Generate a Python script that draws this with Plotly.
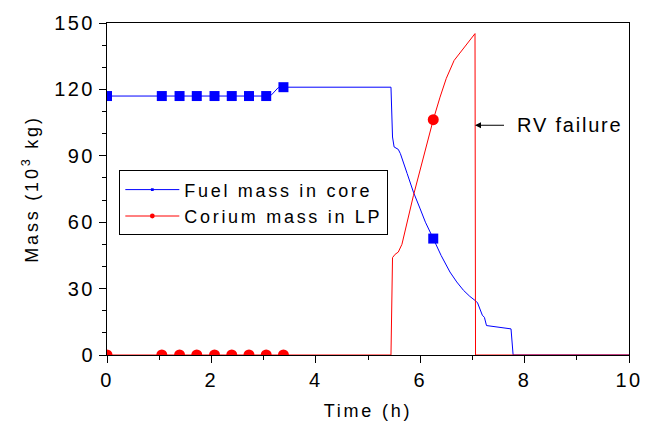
import plotly.graph_objects as go

# ---- data ----
fuel_t = [0, 1.05, 1.39, 1.72, 2.06, 2.39, 2.72, 3.05, 3.15, 3.22, 3.28, 3.38,
          5.44, 5.47, 5.50, 5.58, 5.62, 5.75, 5.87, 6.0, 6.1, 6.25, 6.4, 6.57,
          6.7, 6.83, 6.95, 7.07, 7.10, 7.19, 7.23, 7.27, 7.5, 7.74, 7.78, 10]
fuel_m = [117, 117, 117, 117, 117, 117, 117, 117, 117.5, 119.5, 120.8, 121,
          121, 98.5, 94, 92.9, 91, 82, 73.6, 66, 60, 52.6, 45, 37.5,
          33, 29.2, 26.5, 24.3, 23.5, 18, 17, 13.3, 12.7, 11.8, 0, 0]
fuel_marker_t = [0, 1.05, 1.39, 1.72, 2.06, 2.39, 2.72, 3.05, 3.38, 6.25]

corium_t = [0, 1.05, 1.39, 1.72, 2.06, 2.39, 2.72, 3.05, 3.38, 5.44, 5.47,
            5.52, 5.58, 5.65, 5.87, 6.25, 6.38, 6.5, 6.65, 6.8, 7.05, 7.06, 10]
corium_m = [0, 0, 0, 0, 0, 0, 0, 0, 0, 0, 44,
            45.5, 46.5, 50, 72, 106.3, 116.5, 125, 133.1, 137.5, 145.2, 0, 0]
corium_marker_t = [0, 1.05, 1.39, 1.72, 2.06, 2.39, 2.72, 3.05, 3.38, 6.25]

series_names = ["Fuel mass in core", "Corium mass in LP"]
x_title = "Time (h)"
y_title = "Mass (10<sup>3</sup> kg)"
annotation_text = "RV failure"
rv_failure_t = 7.05
rv_failure_level = 103.8

FONT = "Liberation Sans, Arial, sans-serif"


def marker_sizes(ts, marker_ts, size):
    return [size if any(abs(t - m) < 1e-9 for m in marker_ts) else 0 for t in ts]


def spaced(text, px):
    return '<span style="letter-spacing:%spx">%s</span>' % (px, text)


fig = go.Figure()
fig.add_trace(go.Scatter(
    x=fuel_t, y=fuel_m, mode="lines+markers", name=spaced(series_names[0], 2.7),
    line=dict(color="#0000ff", width=1),
    marker=dict(symbol="square", color="#0000ff", opacity=1,
                line=dict(width=0),
                size=marker_sizes(fuel_t, fuel_marker_t, 10)),
))
fig.add_trace(go.Scatter(
    x=corium_t, y=corium_m, mode="lines+markers", name=spaced(series_names[1], 2.7),
    line=dict(color="#ff0000", width=1),
    marker=dict(symbol="circle", color="#ff0000", opacity=1,
                line=dict(width=0),
                size=marker_sizes(corium_t, corium_marker_t, 11)),
))

# label with arrow pointing at the RV failure instant
fig.add_annotation(
    x=rv_failure_t, y=rv_failure_level, xref="x", yref="y",
    ax=94, ay=0, text=annotation_text,
    showarrow=True, arrowhead=2, arrowsize=1.2, arrowwidth=1,
    arrowcolor="black", standoff=0, startstandoff=20,
    font=dict(family=FONT, size=20, color="black"),
)

axis_common = dict(
    showline=True, linecolor="black", linewidth=1, mirror=True,
    ticks="outside", ticklen=7, tickwidth=1, tickcolor="black",
    showgrid=False, zeroline=False, automargin=False,
    tickfont=dict(family=FONT, size=20, color="black"),
)

fig.update_xaxes(
    range=[0, 10], dtick=2, tick0=0,
    minor=dict(dtick=1, ticks="outside", ticklen=4, tickcolor="black"),
    title=dict(text=x_title, font=dict(family=FONT, size=18, color="black"), standoff=14),
    layer="below traces",
    **axis_common,
)
fig.update_yaxes(
    range=[0, 150], dtick=30, tick0=0,
    minor=dict(dtick=10, ticks="outside", ticklen=4, tickcolor="black"),
    title=dict(text=y_title, font=dict(family=FONT, size=18, color="black"), standoff=18),
    **axis_common,
)

fig.update_layout(
    width=654, height=421,
    margin=dict(l=99, r=33, t=15, b=74, pad=0),
    paper_bgcolor="white", plot_bgcolor="white",
    font=dict(family=FONT, color="black"),
    showlegend=True,
    legend=dict(
        x=0.0236, y=0.556, xanchor="left", yanchor="top",
        bordercolor="black", borderwidth=1, bgcolor="white",
        font=dict(family=FONT, size=18, color="black"),
        tracegroupgap=0, itemwidth=54,
    ),
)

post = """
var st = document.createElement('style');
st.textContent = '.xtick text, .ytick text {letter-spacing: 2.5px;} '
  + '.g-xtitle text, .g-ytitle text {letter-spacing: 2.8px;} '
  + '.annotation-text {letter-spacing: 1.8px;}';
document.head.appendChild(st);
"""

fig.write_html("out.html", post_script=post)
